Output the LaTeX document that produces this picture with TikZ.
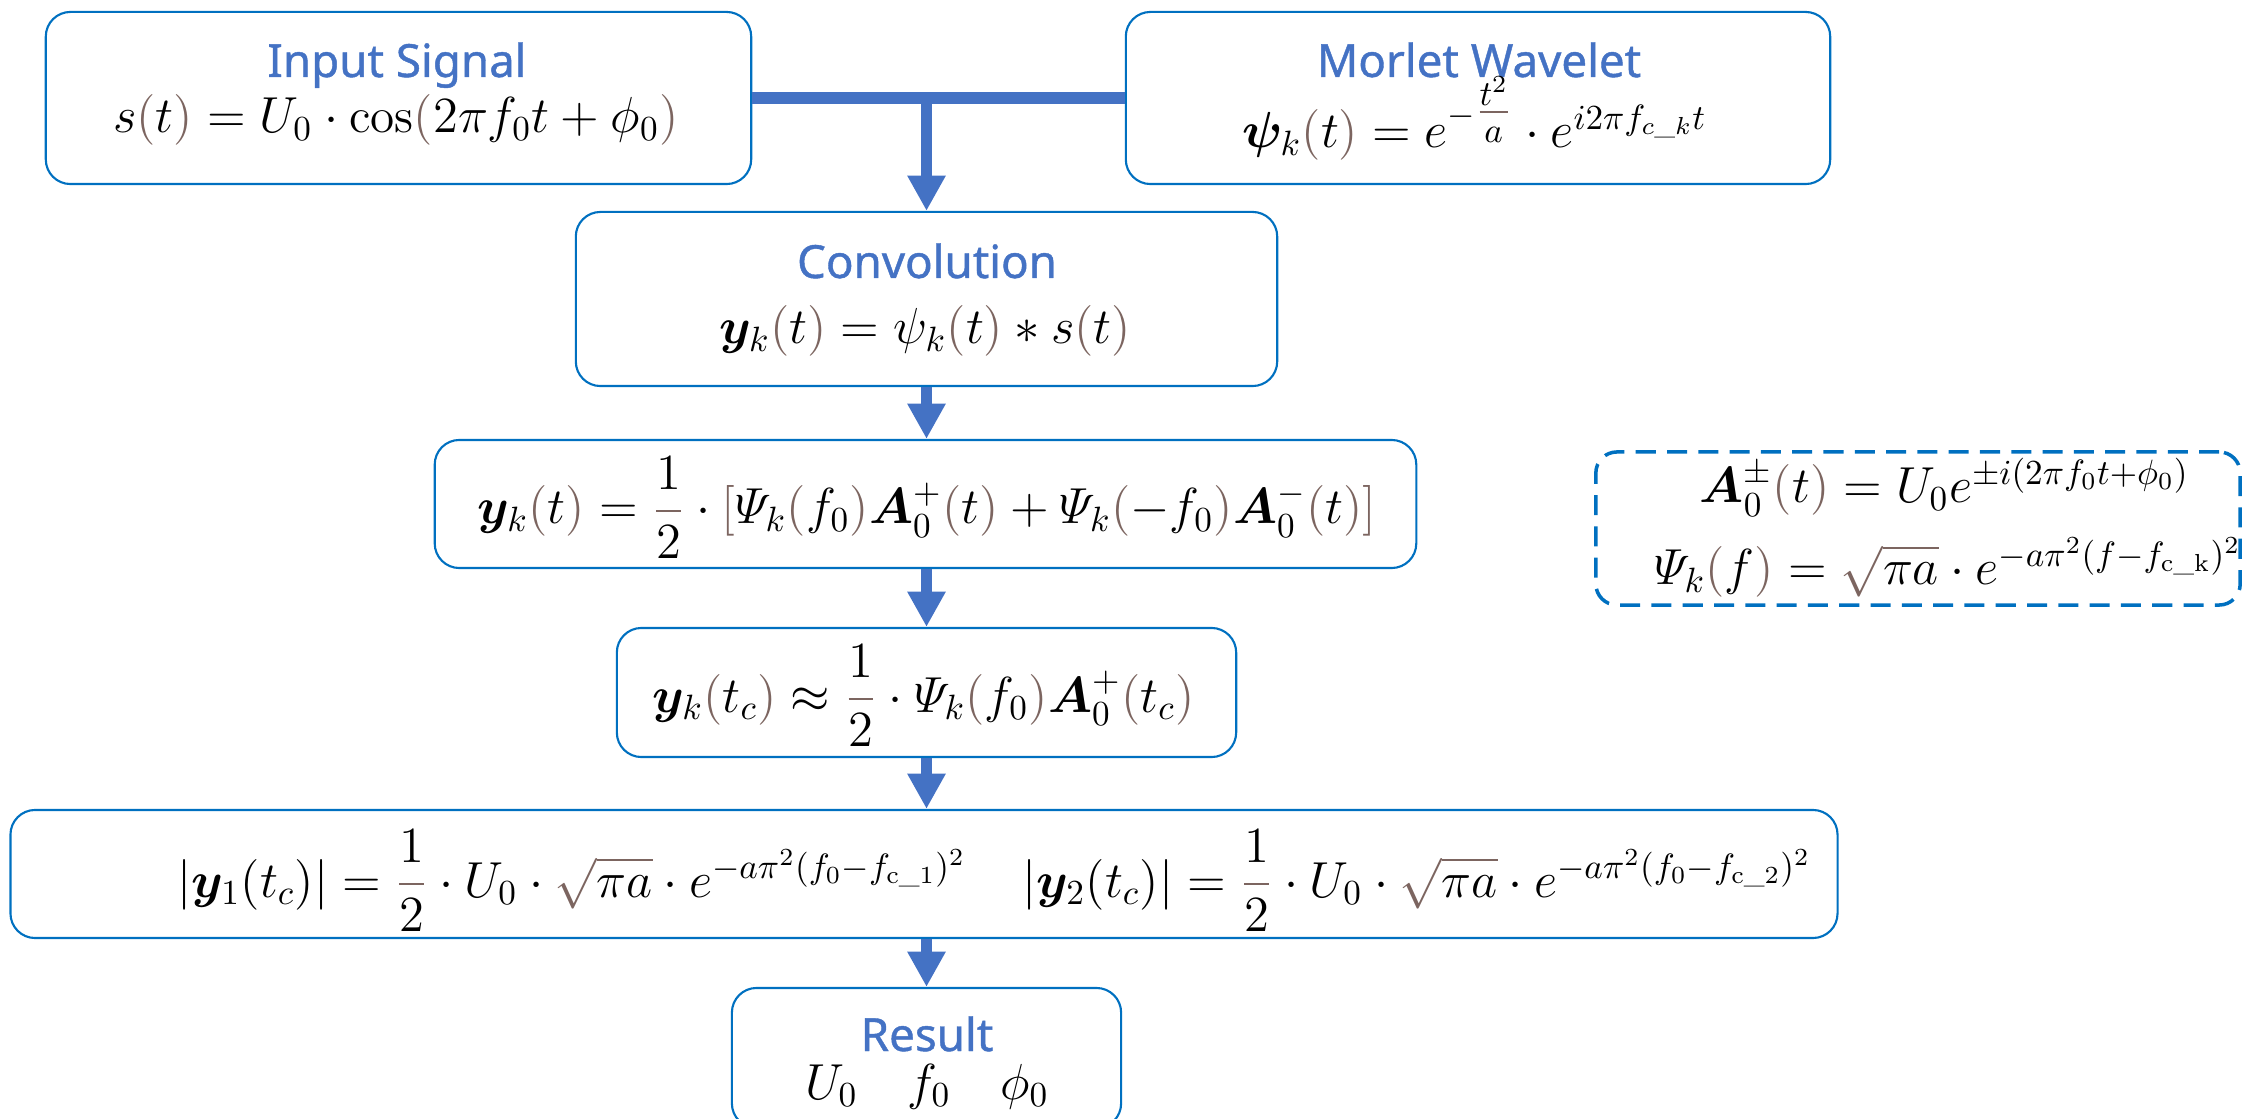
\documentclass[tikz,border=0pt]{standalone}
\usepackage{amsmath,bm}
\usepackage{fontspec}
\newfontfamily\titlefont[FakeBold=0.9]{Noto Sans}
\usetikzlibrary{arrows.meta}
\definecolor{boxblue}{RGB}{0,112,192}
\definecolor{arrblue}{RGB}{68,114,196}
\definecolor{brn}{RGB}{124,101,96}
\newcommand{\lp}{\mathopen{\color{brn}(}}
\newcommand{\rp}{\mathclose{\color{brn})}}
\newcommand{\lbk}{\mathopen{\color{brn}[}}
\newcommand{\rbk}{\mathclose{\color{brn}]}}
\newcommand{\bhalf}{{\color{brn}\dfrac{\color{black}1}{\color{black}2}}}
\newcommand{\bsqrt}[1]{{\color{brn}\sqrt{\color{black}#1}}}
\tikzset{
 box/.style={draw=boxblue, line width=0.6pt, rounded corners=7pt, inner sep=0pt},
 dbox/.style={draw=boxblue, line width=1pt, dash pattern=on 5.7pt off 3.2pt, rounded corners=6pt, inner sep=0pt},
 ttl/.style={anchor=base, font=\titlefont\fontsize{13}{15}\selectfont, text=arrblue, inner sep=0pt},
 eq/.style={anchor=base, font=\fontsize{14}{16}\selectfont, inner sep=0pt},
 conn/.style={draw=arrblue, line width=3.3pt},
 arr/.style={conn, -{Triangle[width=10.2pt,length=10pt]}},
}
\begin{document}
\begin{tikzpicture}[x=0.01cm,y=-0.01cm]
\useasboundingbox (0,0) rectangle (2243,1119);
% boxes
\node[box, minimum width=7.05cm, minimum height=1.72cm] (in) at (398.5,98) {};
\node[box, minimum width=7.04cm, minimum height=1.72cm] (mw) at (1478,98) {};
\node[box, minimum width=7.01cm, minimum height=1.74cm] (conv) at (926.5,299) {};
\node[box, minimum width=9.81cm, minimum height=1.28cm] (b3) at (925.5,504) {};
\node[box, minimum width=6.19cm, minimum height=1.29cm] (b4) at (926.5,692.5) {};
\node[box, minimum width=18.26cm, minimum height=1.28cm] (b5) at (924,874) {};
\node[box, minimum width=3.89cm, minimum height=1.40cm] (res) at (926.5,1058) {};
\node[dbox, minimum width=6.44cm, minimum height=1.53cm] (defs) at (1918,528.5) {};
% titles
\node[ttl] (tin) at (397,77) {Input Signal};
\node[ttl] (tmw) at (1479,77) {Morlet Wavelet};
\node[ttl] (tconv) at (927,278) {Convolution};
\node[ttl] (tres) at (927,1051) {Result};
% equations
\node[eq] (ein) at (396,133) {$s\lp t\rp = U_0\cdot\cos\lp 2\pi f_0 t+\phi_0\rp$};
\node[eq] (emw) at (1474.5,148) {$\boldsymbol{\psi}_k\lp t\rp = e^{-{\color{brn}\textstyle\frac{\color{black}t^2}{\color{black}a}}}\cdot e^{i2\pi f_{c\_k}t}$};
\node[eq] (econv) at (925,344) {$\boldsymbol{y}_k\lp t\rp = \psi_k\lp t\rp * s\lp t\rp$};
\node[eq] (e3) at (927,524) {$\boldsymbol{y}_k\lp t\rp = \bhalf\cdot\lbk\varPsi_k\lp f_0\rp\boldsymbol{A}_0^+\lp t\rp + \varPsi_k\lp -f_0\rp\boldsymbol{A}_0^-\lp t\rp\rbk$};
\node[eq] (e4) at (923.5,712) {$\boldsymbol{y}_k\lp t_c\rp \approx \bhalf\cdot\varPsi_k\lp f_0\rp\boldsymbol{A}_0^+\lp t_c\rp$};
\node[eq] (e5a) at (572,897) {$|\boldsymbol{y}_1(t_c)| = \bhalf\cdot U_0\cdot\bsqrt{\pi a}\cdot e^{-a\pi^2(f_0-f_{\mathrm{c\_1}})^2}$};
\node[eq] (e5b) at (1417,897) {$|\boldsymbol{y}_2(t_c)| = \bhalf\cdot U_0\cdot\bsqrt{\pi a}\cdot e^{-a\pi^2(f_0-f_{\mathrm{c\_2}})^2}$};
\node[eq] (eres) at (927,1099) {$U_0\quad f_0\quad \phi_0$};
\node[eq] (ed1) at (1944.5,503) {$\boldsymbol{A}_0^{\pm}\lp t\rp = U_0 e^{\pm i(2\pi f_0 t+\phi_0)}$};
\node[eq] (ed2) at (1948,585) {$\varPsi_k\lp f\rp = \bsqrt{\pi a}\cdot e^{-a\pi^2(f-f_{\mathrm{c\_k}})^2}$};
% connectors
\draw[conn] (in.east) -- (mw.west);
\draw[arr] (conv.north |- in.east) -- (conv.north);
\draw[arr] (conv.south) -- (conv.south |- b3.north);
\draw[arr] (b3.south -| b4.north) -- (b4.north);
\draw[arr] (b4.south) -- (b4.south |- b5.north);
\draw[arr] (b5.south -| res.north) -- (res.north);
\end{tikzpicture}
\end{document}
